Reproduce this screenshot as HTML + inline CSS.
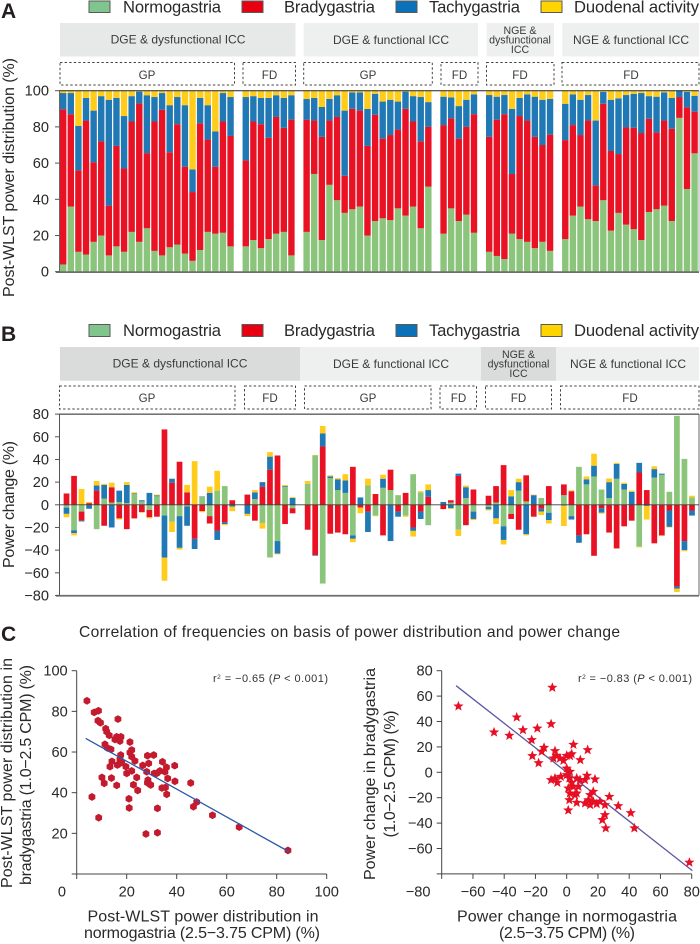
<!DOCTYPE html>
<html lang="en">
<head>
<meta charset="utf-8">
<title>Post-WLST power distribution and power change</title>
<style>
html,body{margin:0;padding:0;background:#fff;}
svg{display:block;}
text{font-family:"Liberation Sans",sans-serif;fill:#2b2829;}
.leg{font-size:16.6px;}
.letter{font-size:21px;font-weight:bold;fill:#231f20;}
.tick{font-size:14.6px;}
.title{font-size:16px;}
.ban{font-size:12px;text-anchor:middle;fill:#3a3a3a;}
.ban2{font-size:10.6px;text-anchor:middle;fill:#3a3a3a;}
.grp{font-size:11.6px;text-anchor:middle;fill:#3a3a3a;}
.dash{fill:#fff;stroke:#444;stroke-width:1;stroke-dasharray:2.4 2.2;}
.r2{font-size:11px;fill:#333;}
.swatch{stroke:#5a5a55;stroke-width:1;}
</style>
</head>
<body>
<svg id="fig" xmlns="http://www.w3.org/2000/svg" width="700" height="944" viewBox="0 0 700 944">
<rect x="0" y="0" width="700" height="944" fill="#fff"/>

<text class="letter" x="1" y="18">A</text>
<g>
<rect class="swatch" x="89" y="1" width="21" height="11.5" fill="#80c58e"/>
<text class="leg" x="123" y="12.5" textLength="98">Normogastria</text>
<rect class="swatch" x="242" y="1" width="21" height="11.5" fill="#e60012"/>
<text class="leg" x="284" y="12.5" textLength="91">Bradygastria</text>
<rect class="swatch" x="396" y="1" width="21" height="11.5" fill="#0b72b9"/>
<text class="leg" x="429" y="12.5" textLength="91">Tachygastria</text>
<rect class="swatch" x="541" y="1" width="21" height="11.5" fill="#ffd400"/>
<text class="leg" x="574" y="12.5" textLength="125">Duodenal activity</text>
</g>
<g>
<rect x="60" y="23" width="235.5" height="33.5" fill="#e7e9e9"/>
<text class="ban" x="178" y="43.5">DGE &amp; dysfunctional ICC</text>
<rect x="303.7" y="23" width="174.3" height="33.5" fill="#eeefef"/>
<text class="ban" x="391" y="44">DGE &amp; functional ICC</text>
<rect x="486.7" y="23" width="67.3" height="33.5" fill="#eeefef"/>
<text class="ban2" x="520" y="34">NGE &amp;</text>
<text class="ban2" x="520" y="43.5">dysfunctional</text>
<text class="ban2" x="520" y="53">ICC</text>
<rect x="562.3" y="23" width="136.7" height="33.5" fill="#eeefef"/>
<text class="ban" x="631" y="44">NGE &amp; functional ICC</text>
</g>
<g>
<rect class="dash" x="60" y="62.5" width="174.5" height="22.5"/>
<text class="grp" x="147" y="79">GP</text>
<rect class="dash" x="243" y="62.5" width="52.5" height="22.5"/>
<text class="grp" x="269.5" y="79">FD</text>
<rect class="dash" x="303.7" y="62.5" width="128.6" height="22.5"/>
<text class="grp" x="368" y="79">GP</text>
<rect class="dash" x="441" y="62.5" width="37" height="22.5"/>
<text class="grp" x="459.5" y="79">FD</text>
<rect class="dash" x="486.5" y="62.5" width="67.5" height="22.5"/>
<text class="grp" x="520" y="79">FD</text>
<rect class="dash" x="562" y="62.5" width="137" height="22.5"/>
<text class="grp" x="631" y="79">FD</text>
</g>
<text class="title" transform="translate(14 177.5) rotate(-90)" text-anchor="middle" textLength="239">Post-WLST power distribution (%)</text>
<g id="plotA"></g>

<text class="letter" x="1" y="341">B</text>
<g>
<rect class="swatch" x="89" y="324.5" width="21" height="12" fill="#80c58e"/>
<text class="leg" x="123" y="336" textLength="98">Normogastria</text>
<rect class="swatch" x="242" y="324.5" width="21" height="12" fill="#e60012"/>
<text class="leg" x="284" y="336" textLength="91">Bradygastria</text>
<rect class="swatch" x="396" y="324.5" width="21" height="12" fill="#0b72b9"/>
<text class="leg" x="429" y="336" textLength="91">Tachygastria</text>
<rect class="swatch" x="541" y="324.5" width="21" height="12" fill="#ffd400"/>
<text class="leg" x="574" y="336" textLength="125">Duodenal activity</text>
</g>
<g>
<rect x="60" y="347" width="240" height="33.7" fill="#dadcdc"/>
<text class="ban" x="180" y="367.5">DGE &amp; dysfunctional ICC</text>
<rect x="300" y="347" width="181" height="33.7" fill="#eeefef"/>
<text class="ban" x="391" y="368">DGE &amp; functional ICC</text>
<rect x="481" y="347" width="75" height="33.7" fill="#dadcdc"/>
<text class="ban2" x="518.5" y="358">NGE &amp;</text>
<text class="ban2" x="518.5" y="367.5">dysfunctional</text>
<text class="ban2" x="518.5" y="377">ICC</text>
<rect x="556" y="347" width="143" height="33.7" fill="#eeefef"/>
<text class="ban" x="628" y="368">NGE &amp; functional ICC</text>
</g>
<g>
<rect class="dash" x="59.5" y="386" width="175.5" height="23"/>
<text class="grp" x="147" y="402">GP</text>
<rect class="dash" x="244.5" y="386" width="51" height="23"/>
<text class="grp" x="270" y="402">FD</text>
<rect class="dash" x="304.5" y="386" width="126.5" height="23"/>
<text class="grp" x="368" y="402">GP</text>
<rect class="dash" x="440" y="386" width="36.5" height="23"/>
<text class="grp" x="458.5" y="402">FD</text>
<rect class="dash" x="485.5" y="386" width="66" height="23"/>
<text class="grp" x="518.5" y="402">FD</text>
<rect class="dash" x="560.5" y="386" width="138.5" height="23"/>
<text class="grp" x="630" y="402">FD</text>
</g>
<text class="title" transform="translate(14 504.5) rotate(-90)" text-anchor="middle" textLength="127">Power change (%)</text>
<g id="plotB"></g>

<text class="letter" x="1" y="641">C</text>
<text x="79" y="637" font-size="15.6" textLength="541">Correlation of frequencies on basis of power distribution and power change</text>

<text class="title" transform="translate(12 773) rotate(-90)" text-anchor="middle" textLength="230">Post-WLST power distribution in</text>
<text class="title" transform="translate(31 775) rotate(-90)" text-anchor="middle" textLength="220">bradygastria (1.0−2.5 CPM) (%)</text>
<text class="title" x="203" y="921.5" text-anchor="middle" textLength="231">Post-WLST power distribution in</text>
<text class="title" x="202" y="938" text-anchor="middle" textLength="236">normogastria (2.5−3.75 CPM) (%)</text>
<text class="r2" x="213" y="682" textLength="115">r<tspan dy="-3" font-size="6.5">2</tspan><tspan dy="3"> = −0.65 (</tspan><tspan font-style="italic">P</tspan> &lt; 0.001)</text>
<g id="plotC1"></g>

<text class="title" transform="translate(375 774) rotate(-90)" text-anchor="middle" textLength="212">Power change in bradygastria</text>
<text class="title" transform="translate(395 774) rotate(-90)" text-anchor="middle" textLength="127">(1.0−2.5 CPM) (%)</text>
<text class="title" x="567" y="921.5" text-anchor="middle" textLength="220">Power change in normogastria</text>
<text class="title" x="567" y="938" text-anchor="middle" textLength="136">(2.5−3.75 CPM) (%)</text>
<text class="r2" x="578" y="682" textLength="114">r<tspan dy="-3" font-size="6.5">2</tspan><tspan dy="3"> = −0.83 (</tspan><tspan font-style="italic">P</tspan> &lt; 0.001)</text>
<g id="plotC2"></g>
</svg>

<script>
const groupSizes = [23, 7, 17, 5, 9, 18];

const distNormo = [4,36,11,9.5,16.5,20,9,14,11,22,16.5,24,11.5,9,13.5,15,10,6,12,22,21,21.5,14,14,17.5,13,18,21,22,9,22,54,17.5,48,39.5,32.5,34.5,36,20,28,29.5,28.5,35,31,36,24,47,21,35,28,31.5,21.5,11,8.7,7,21,18,16.5,13,16.5,11.5,18,31,36,29,28,39.5,22.7,32.5,26,23.5,17.5,33,34.5,36.5,28,85,45.7,65.4];
const distBrady = [85.7,51,45,74,44,52,27.5,55.5,46,61,76.5,41.5,71.5,80.5,52.5,66.5,48,38,70,51,37,61.5,61,47.5,65.5,68.5,56,64.5,57.5,75,62,29.5,57,35.5,46,20.5,55.5,53,49.5,58.7,44,47,43.5,59,47,48,33,60,49.7,45.5,48.5,65.5,63.5,75.3,80,33,68,67,61.5,53.5,64.2,54.7,50,39.5,54.5,19.7,53.3,44,32.5,53.7,56,59.1,51.5,42.5,47,51,11.5,45.1,23];
const distTachy = [9,11.7,24.5,12.5,28.5,25,58.5,26.5,29,14,6.5,32,13.5,9.2,26,15,34,12.5,14,19,19.5,15.7,21.5,35,14,14.5,22,12,16.5,13.5,11.4,12.5,16.5,12,12,36,9,10,20.5,11.6,20.5,19.5,15.5,9.5,14,24.5,13.7,15.7,11.6,18,15,11,23.1,12.7,10.6,36,10,14.5,22.2,25,19.8,20.1,17,19.5,14.1,35.8,6.5,28.3,30.8,17.9,18.8,22.1,12.5,19.7,15.5,17,3.5,8.5,8.8];
const distDuo = [1.3,1.3,19.5,4,11,3,5,4,14,3,0.5,2.5,3.5,1.3,8,3.5,8,43.5,4,8,22.5,1.3,3.5,3.5,3,4,4,2.5,4,2.5,4.6,4,9,4.5,2.5,11,1,1,10,1.7,6,5,6,0.5,3,3.5,6.3,3.3,3.7,8.5,5,2,2.4,3.3,2.4,10,4,2,3.3,5,4.5,7.2,2,5,2.4,16.5,0.7,5,4.2,2.4,1.7,1.3,3,3.3,1,4,0,0.7,2.8];

const chgNormo = [-2.5,-22.5,-6,-0.3,-21.5,5.5,2,2.5,1.5,9.5,3,-4.5,7.5,-9.5,-15,-10,-1.5,0,7.5,-10,12.5,16.5,0,0,5,-16,-46.5,-32,16,-3,18.5,43.5,-69.5,23.5,13,10.5,-27,0.3,17,-9.5,15,13,8.5,-9.5,27,11,-18,0,2,-22,6,-6,-2,2,-19,-8,12.5,3,0,6,-7,8.5,-10,33.5,18,25,13.5,6,23,13.5,0,-37,0,24,26.5,11.5,78.5,40.5,6.5];
const chgBrady = [10,25.5,-8,1.5,12.5,-18.5,13.5,-12,-21.5,-12,-6.5,-6.5,-10.5,66.5,19.5,38,11,-30,-5.5,-6.5,-23,-15.5,4,9,-14,16,31,43.5,-17,-4.5,-22,-44.5,51.5,-25.5,-24.5,-26,33.5,-2.5,-6,9.5,-27,18,-6,10.5,-20,-6,7,-3.8,2,25.5,-18,13.5,8,14.5,35,-4.5,-22,23,-10.5,-3.5,16.5,9.5,12,-27,-26,-45,-3,-24.5,-38.5,-19,-14,28.5,13,-34,-27,-5,-72,-32,-5];
const chgTachy = [-5.5,-2.5,-0.7,-3.2,4.5,12,-20,10,16,0.5,1,10.5,0.8,-37,3.5,-28,-17,-9,0.1,10.5,-8,-1.5,-1.7,-8,6,4,11.5,-11,0.7,6,0,-0.5,11.5,1.5,9.5,11,-3,6.2,-18,0,8,-32,-4.5,0,-3,-6.5,6,2.5,-3,2,9.5,-6.5,-2,-12,-12,7.5,7.5,-26,8.5,-2.5,-6.5,-0.7,-3,-6.5,4.5,9.5,-4,14,13,5,11.5,8.5,-1,7.5,1,-14.5,-2,-8,-4.5];
const chgDuo = [-3,-2,14,1,4,1,4,-1,2.5,1,-0.5,-1,0.7,-20.5,-9,-1.5,6.5,38.5,-1,5.5,17.5,-1,-4,-2,2,-5,4,-0.7,0.8,0.7,2.5,0.5,6.5,1,1,5.5,-3,-5,6,-0.5,3.5,0,0,-1,-5,1,5,0,-0.7,-5.5,1.5,-1,-1,-5,-4,5.5,3,-1,0.5,-3,-3,-18,0.8,0,2.5,10.5,-0.8,3.2,1,1,1,-0.5,-12,2.5,-0.5,-0.5,-3,-1,1.5];

const distTicks = ['0','20','40','60','80','100'];
const chgTicks = ['−80','−60','−40','−20','0','20','40','60','80'];

const scatter1X = [4.1,7,8.7,8.5,9.5,11.6,12,13,16.5,16,15.3,17.3,17.7,21.3,22,11.3,12.3,13.7,17.6,17.3,14.1,13.3,16.3,18,19.7,20,22,21.3,22,23.3,26.4,28.8,28.3,30.8,28,31,32,33.3,34.3,35.3,35.9,36.4,39.2,39.3,28.5,28.3,29.6,24,22.7,24.4,16,10.1,11,13.9,6.1,8.8,20.9,21,32.3,27.7,32.3,34.1,35.5,36,45.6,48,46.7,54.3,65,84.5];
const scatter1Y = [85.2,79.5,80.3,75.4,74.4,71.5,70,68.2,76.2,67.5,66.2,65.4,67.5,64.9,61,63.8,62,61.3,58.5,56.4,55.4,52.8,53.6,54.8,52.8,49.5,50.7,59.7,57.7,55.6,53.4,54.4,58.2,58.5,50.3,49.5,49.5,50.7,55.2,50.3,52.5,47,53.3,45.6,46.2,44.9,43.8,47.5,43.9,41.1,43.6,47.5,44.6,47.2,37.9,27.7,37,32.5,32.3,19.7,20.3,42.3,42.6,39.2,44.8,35.4,33.1,28.9,23.1,11.6];
const fit1X = [3.6, 85.3];
const fit1Y = [66.7, 10.7];
const scatter1XTicks = ['20','40','60','80','100'];
const scatter1YTicks = ['20','40','60','80','100'];

const scatter2X = [-69.3,-46.5,-36.7,-32,-28,-22.4,-22,-18,-18.8,-10,-9.2,-14.5,-16,-7.5,-8.5,-6.4,-4.3,-2.1,0,2.1,3.2,4.3,8.7,13.4,0,2.1,-10,-7.5,-6,-3.8,0,1.7,3.2,6.4,8.5,11.7,13,18.1,1,4.3,7.5,2,5.3,1.7,1,6.4,11.7,13.9,15,17,17,15,19.2,24.5,27.3,33,41,43.3,25,24.5,22.8,78.5,21.3,6.4];
const scatter2Y = [52,31.5,28.9,43.3,33.3,25.5,12.9,7.3,34.6,38,66.7,19.4,16.3,16.8,11,13.1,11,9.2,13.1,12.9,14.4,21.8,9.7,17.6,3.1,0.5,-6,-4.7,-8.1,-3.4,-2.1,-4.7,-8.1,-4.7,-6,-6,-2.6,-5.5,-12.6,-11.3,-11.3,-16.5,-17.8,-21.8,-29.9,-23.9,-24.4,-21.8,-25.7,-23,-15.2,-17.8,-24.9,-25.7,-19.2,-26.5,-32,-44,-44,-33.6,-37.5,-71,-23.1,-16.5];
const fit2X = [-70.8, 80.4];
const fit2Y = [68.2, -77.4];
const scatter2XTicks = ['−60','−40','−20','0','20','40','60','80'];
const scatter2YTicks = ['−60','−40','−20','0','20','40','60','80'];

const seriesNames = ['normogastria','bradygastria','tachygastria','duodenal-activity'];
const seriesColors = ['#8bc57b','#e81224','#2078b4','#ffcc1b'];

const NS = 'http://www.w3.org/2000/svg';
function mk(parent, tag, attrs, txt) {
  const el = document.createElementNS(NS, tag);
  for (const k in attrs) el.setAttribute(k, attrs[k]);
  if (txt !== undefined) el.textContent = txt;
  parent.appendChild(el);
  return el;
}
function num(s) { return parseFloat(String(s).replace('−', '-')); }

function slots() {
  const out = [];
  let s = 0;
  groupSizes.forEach(function (n) {
    for (let i = 0; i < n; i++) out.push(s++);
    s++;
  });
  return out;
}
const slotIndex = slots();

function yTicks(g, labels, yFn, axisX, name) {
  labels.forEach(function (lab) {
    const y = yFn(num(lab));
    const t = mk(g, 'line', {x1: axisX - 4.5, x2: axisX, y1: y, y2: y, stroke: '#555', 'stroke-width': 1});
    
    
    const l = mk(g, 'text', {x: axisX - 10.5, y: y + 5, 'text-anchor': 'end', class: 'tick'}, lab);
    
    
  });
}

/* Panel A */
(function () {
  const g = document.getElementById('plotA');
  const y = function (v) { return 271.7 - v * 1.81; };
  const x = function (i) { return 60 + 7.607 * slotIndex[i]; };
  const bw = 6.4;
  const all = [distNormo, distBrady, distTachy, distDuo];
  distNormo.forEach(function (_, i) {
    let cum = 0;
    all.forEach(function (arr, s) {
      const v = arr[i];
      if (v <= 0) return;
      const r = mk(g, 'rect', {x: x(i), y: y(cum + v), width: bw, height: y(cum) - y(cum + v), fill: seriesColors[s]});
      
      
      cum += v;
    });
  });
  const frame = [[59, y(100), 699, y(100), '#222', 1], [699, y(100), 699, y(0), '#777', 0.6], [59.5, y(100), 59.5, y(0), '#666', 1], [56, y(0) + 0.4, 699, y(0) + 0.4, '#706e6b', 1.8]];
  frame.forEach(function (f) {
    const l = mk(g, 'line', {x1: f[0], y1: f[1], x2: f[2], y2: f[3], stroke: f[4], 'stroke-width': f[5]});
    
    
  });
  yTicks(g, distTicks, y, 59.5, 'panel-a-y');
})();

/* Panel B */
(function () {
  const g = document.getElementById('plotB');
  const y = function (v) { return 504.8 - v * 1.1335; };
  const x = function (i) { return 66.5 + 7.536 * slotIndex[i]; };
  const bw = 5.7;
  const all = [chgNormo, chgBrady, chgTachy, chgDuo];
  chgNormo.forEach(function (_, i) {
    let pos = 0, neg = 0;
    all.forEach(function (arr, s) {
      const v = arr[i];
      if (v === 0) return;
      let a, b;
      if (v > 0) { a = pos + v; b = pos; pos += v; } else { a = neg; b = neg + v; neg += v; }
      const r = mk(g, 'rect', {x: x(i) - bw / 2, y: y(a), width: bw, height: y(b) - y(a), fill: seriesColors[s]});
      
      
    });
  });
  const frame = [[59, y(80), 699, y(80), '#222', 1], [699, y(80), 699, y(-80), '#444', 0.8], [59.5, y(80), 59.5, y(-80), '#555', 1], [56, y(-80) + 0.3, 699, y(-80) + 0.3, '#706e6b', 1.8], [59.5, y(0), 699, y(0), '#3c3c3c', 0.9]];
  frame.forEach(function (f) {
    const l = mk(g, 'line', {x1: f[0], y1: f[1], x2: f[2], y2: f[3], stroke: f[4], 'stroke-width': f[5]});
    
    
  });
  yTicks(g, chgTicks, y, 59.5, 'panel-b-y');
})();

function scatterAxes(g, x, y, x0, y0, xEnd, yEnd, xTicks, yTicksArr, cornerX, cornerY, cornerLabel, name) {
  const a1 = mk(g, 'line', {x1: x0, y1: y0, x2: x0, y2: yEnd, stroke: '#444', 'stroke-width': 1});
  
  
  const a2 = mk(g, 'line', {x1: x0 - 5, y1: y0, x2: xEnd, y2: y0, stroke: '#444', 'stroke-width': 1});
  
  
  const tk0 = mk(g, 'line', {x1: x0, y1: y0, x2: x0, y2: y0 + 5, stroke: '#444', 'stroke-width': 1});
  
  
  xTicks.forEach(function (lab) {
    const px = x(num(lab));
    const t = mk(g, 'line', {x1: px, y1: y0, x2: px, y2: y0 + 5, stroke: '#444', 'stroke-width': 1});
    
    
    const l = mk(g, 'text', {x: px, y: y0 + 22.7, 'text-anchor': 'middle', class: 'tick'}, lab);
    
    
  });
  yTicksArr.forEach(function (lab) {
    const py = y(num(lab));
    const t = mk(g, 'line', {x1: x0 - 5, y1: py, x2: x0, y2: py, stroke: '#444', 'stroke-width': 1});
    
    
    const l = mk(g, 'text', {x: x0 - 9, y: py + 5, 'text-anchor': 'end', class: 'tick'}, lab);
    
    
  });
  const c = mk(g, 'text', {x: cornerX, y: cornerY, 'text-anchor': 'end', class: 'tick'}, cornerLabel);
  
  
}

/* Scatter left */
(function () {
  const g = document.getElementById('plotC1');
  const x = function (v) { return 76.7 + v * 2.5; };
  const y = function (v) { return 874 - v * 2.033; };
  scatterAxes(g, x, y, x(0), y(0), x(100), y(100), scatter1XTicks, scatter1YTicks, 66, 896.7, '0', 'scatter-left');
  scatter1X.forEach(function (vx, i) {
    const cx = x(vx), cy = y(scatter1Y[i]), r = 3.9;
    let pts = '';
    for (let k = 0; k < 6; k++) {
      const a = Math.PI / 6 + k * Math.PI / 3;
      pts += (cx + r * Math.cos(a)).toFixed(2) + ',' + (cy + r * Math.sin(a)).toFixed(2) + ' ';
    }
    const p = mk(g, 'polygon', {points: pts, fill: '#c31a2e'});
    
    
  });
  const f = mk(g, 'line', {x1: x(fit1X[0]), y1: y(fit1Y[0]), x2: x(fit1X[1]), y2: y(fit1Y[1]), stroke: '#2a5aa8', 'stroke-width': 1.3});
  
  
})();

/* Scatter right */
(function () {
  const g = document.getElementById('plotC2');
  const x = function (v) { return 566.7 + v * 1.5625; };
  const y = function (v) { return 772.3 - v * 1.27; };
  scatterAxes(g, x, y, x(-80), y(-80), x(80), y(80), scatter2XTicks, scatter2YTicks, 430.5, 896.7, '−80', 'scatter-right');
  const f = mk(g, 'line', {x1: x(fit2X[0]), y1: y(fit2Y[0]), x2: x(fit2X[1]), y2: y(fit2Y[1]), stroke: '#5b56a6', 'stroke-width': 1.3});
  
  
  scatter2X.forEach(function (vx, i) {
    const cx = x(vx), cy = y(scatter2Y[i]), R = 5.4, r = 2.3;
    let pts = '';
    for (let k = 0; k < 10; k++) {
      const a = -Math.PI / 2 + k * Math.PI / 5, q = k % 2 ? r : R;
      pts += (cx + q * Math.cos(a)).toFixed(2) + ',' + (cy + q * Math.sin(a)).toFixed(2) + ' ';
    }
    const p = mk(g, 'polygon', {points: pts, fill: '#e60f23'});
    
    
  });
})();
</script>
</body>
</html>
